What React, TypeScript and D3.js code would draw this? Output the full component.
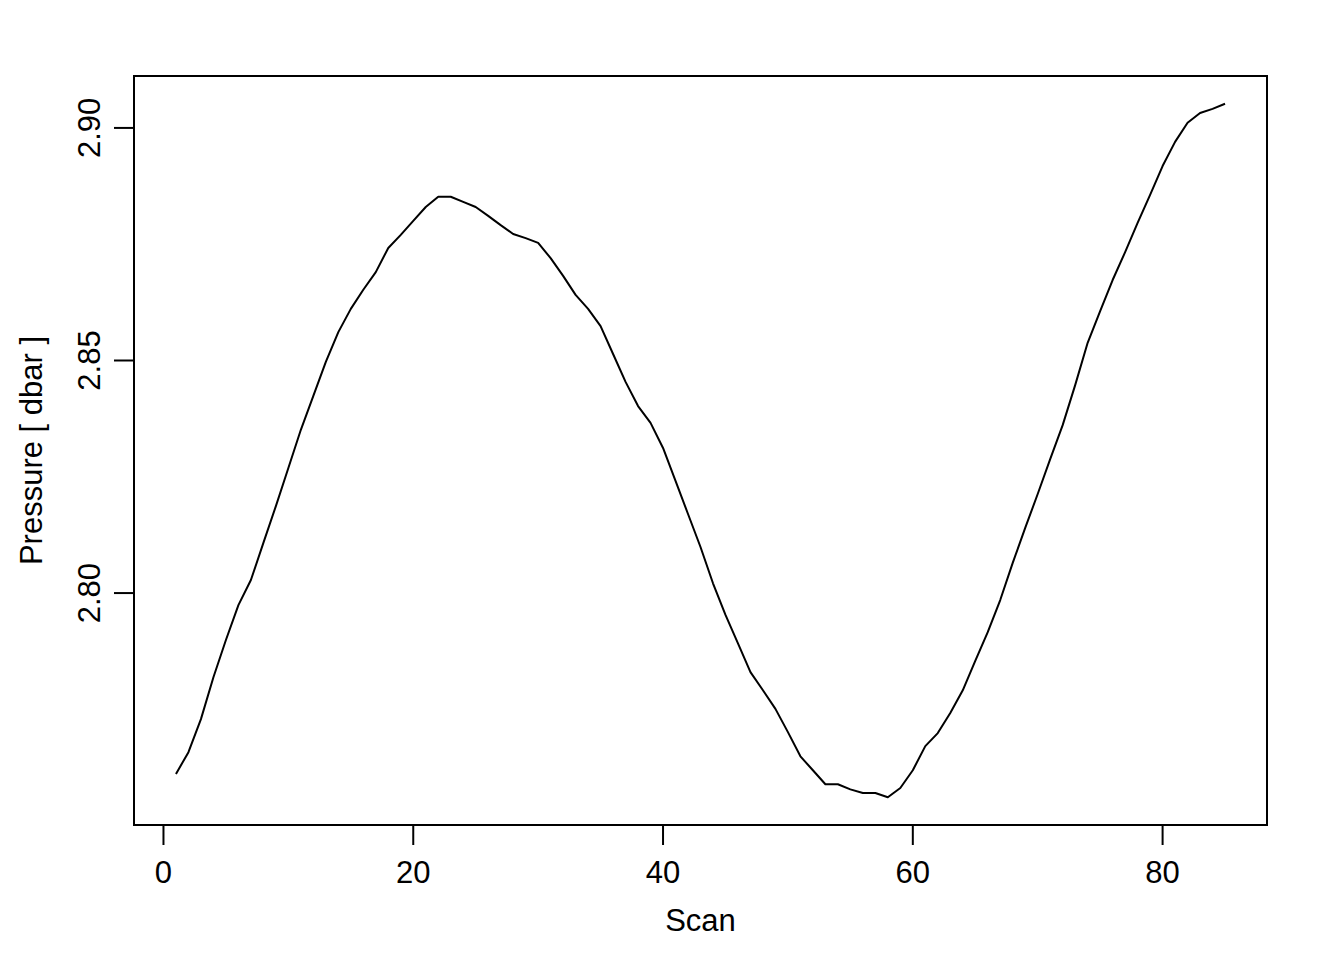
import React, { useEffect, useRef } from "react";
import * as d3 from "d3";

// pressure per scan (scans 1..85)
const pressure = [
  2.7611, 2.7658, 2.7729, 2.7819, 2.7899, 2.7974, 2.8028, 2.8108, 2.8187, 2.8269,
  2.8351, 2.8424, 2.8497, 2.8561, 2.8611, 2.8652, 2.869, 2.8742, 2.877, 2.88,
  2.883, 2.8852, 2.8852, 2.8841, 2.883, 2.8811, 2.8791, 2.8772, 2.8763, 2.8753,
  2.872, 2.8682, 2.8641, 2.8611, 2.8574, 2.8514, 2.8454, 2.8402, 2.8366, 2.8312,
  2.8241, 2.817, 2.8099, 2.8021, 2.7953, 2.7892, 2.783, 2.7791, 2.7751, 2.7701,
  2.7649, 2.7619, 2.7589, 2.7589, 2.7578, 2.757, 2.757, 2.7561, 2.7581, 2.7619,
  2.7671, 2.7699, 2.7742, 2.7791, 2.7854, 2.7916, 2.7985, 2.8065, 2.814, 2.8213,
  2.8288, 2.8361, 2.8447, 2.8538, 2.8606, 2.8673, 2.8733, 2.8796, 2.8856, 2.8918,
  2.897, 2.9011, 2.9032, 2.9041, 2.9052,
];
const scans = pressure.map((_, i) => i + 1);

const xTicks = [0, 20, 40, 60, 80];
const yTicks = [2.8, 2.85, 2.9];
const xTitle = "Scan";
const yTitle = "Pressure [ dbar ]";

const WIDTH = 1344;
const HEIGHT = 960;
const FONT = "'Liberation Sans', Arial, Helvetica, sans-serif";

// R-style 4% padding around the data range
function padded(ext: [number, number]): [number, number] {
  const d = (ext[1] - ext[0]) * 0.04;
  return [ext[0] - d, ext[1] + d];
}

export default function App() {
  const svgRef = useRef<SVGSVGElement | null>(null);

  useEffect(() => {
    if (!svgRef.current) return;
    const svg = d3.select(svgRef.current);
    svg.selectAll("*").remove();

    const box = { left: 134, right: 1267, top: 76, bottom: 825 };

    const x = d3
      .scaleLinear()
      .domain(padded(d3.extent(scans) as [number, number]))
      .range([box.left, box.right]);
    const y = d3
      .scaleLinear()
      .domain(padded(d3.extent(pressure) as [number, number]))
      .range([box.bottom, box.top]);

    svg.append("rect")
      .attr("width", WIDTH)
      .attr("height", HEIGHT)
      .attr("fill", "#ffffff");

    // data line
    const line = d3
      .line<number>()
      .x((_, i) => x(scans[i]))
      .y((d) => y(d));

    svg.append("path")
      .datum(pressure)
      .attr("d", line)
      .attr("fill", "none")
      .attr("stroke", "#000")
      .attr("stroke-width", 2)
      .attr("stroke-linejoin", "round");

    // plot box
    svg.append("rect")
      .attr("x", box.left)
      .attr("y", box.top)
      .attr("width", box.right - box.left)
      .attr("height", box.bottom - box.top)
      .attr("fill", "none")
      .attr("stroke", "#000")
      .attr("stroke-width", 2);

    // x axis (R style: line spans first..last tick)
    const xa = svg.append("g");
    xa.append("line")
      .attr("x1", x(xTicks[0]))
      .attr("x2", x(xTicks[xTicks.length - 1]))
      .attr("y1", box.bottom)
      .attr("y2", box.bottom)
      .attr("stroke", "#000")
      .attr("stroke-width", 2);
    xTicks.forEach((t) => {
      xa.append("line")
        .attr("x1", x(t))
        .attr("x2", x(t))
        .attr("y1", box.bottom)
        .attr("y2", box.bottom + 20)
        .attr("stroke", "#000")
        .attr("stroke-width", 2);
      xa.append("text")
        .attr("x", x(t))
        .attr("y", 883)
        .attr("text-anchor", "middle")
        .attr("font-family", FONT)
        .attr("font-size", 31)
        .text(String(t));
    });

    // y axis
    const ya = svg.append("g");
    ya.append("line")
      .attr("x1", box.left)
      .attr("x2", box.left)
      .attr("y1", y(yTicks[0]))
      .attr("y2", y(yTicks[yTicks.length - 1]))
      .attr("stroke", "#000")
      .attr("stroke-width", 2);
    yTicks.forEach((t) => {
      ya.append("line")
        .attr("x1", box.left - 20)
        .attr("x2", box.left)
        .attr("y1", y(t))
        .attr("y2", y(t))
        .attr("stroke", "#000")
        .attr("stroke-width", 2);
      ya.append("text")
        .attr("transform", `translate(100,${y(t)}) rotate(-90)`)
        .attr("text-anchor", "middle")
        .attr("font-family", FONT)
        .attr("font-size", 31)
        .text(d3.format(".2f")(t));
    });

    // titles
    svg.append("text")
      .attr("x", (box.left + box.right) / 2)
      .attr("y", 931)
      .attr("text-anchor", "middle")
      .attr("font-family", FONT)
      .attr("font-size", 31)
      .text(xTitle);

    svg.append("text")
      .attr("transform", `translate(42,${(box.top + box.bottom) / 2}) rotate(-90)`)
      .attr("text-anchor", "middle")
      .attr("font-family", FONT)
      .attr("font-size", 31)
      .text(yTitle);
  }, []);

  return (
    <div style={{ position: "absolute", left: 0, top: 0, width: WIDTH, height: HEIGHT, background: "#fff" }}>
      <svg ref={svgRef} width={WIDTH} height={HEIGHT} style={{ display: "block" }} />
    </div>
  );
}
